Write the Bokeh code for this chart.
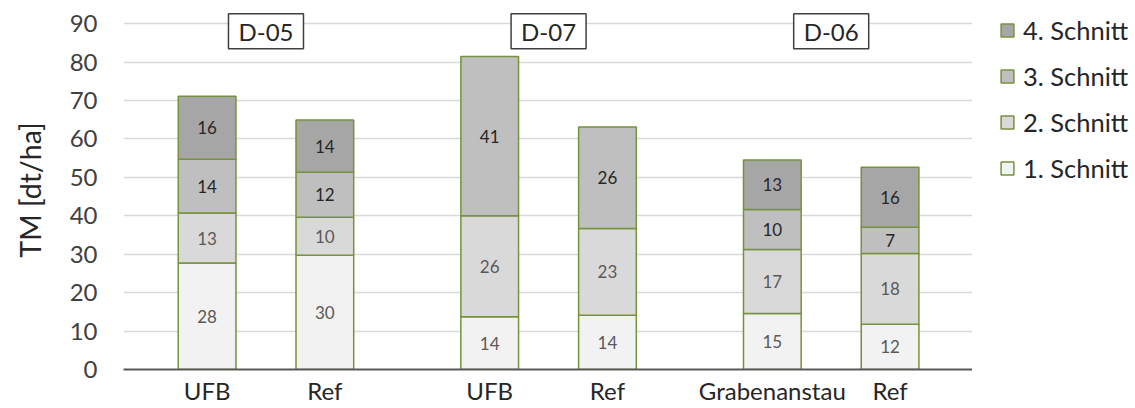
from bokeh.plotting import figure
from bokeh.layouts import row
from bokeh.models import ColumnDataSource, Range1d, FixedTicker, Label, Legend, LegendItem
from bokeh.core.properties import value
from bokeh.embed import file_html
from bokeh.resources import INLINE

# ---------------- data ----------------
sites = ["D-05", "D-05", "D-07", "D-07", "D-06", "D-06"]
categories = ["UFB", "Ref", "UFB", "Ref", "Grabenanstau", "Ref"]
series_names = ["1. Schnitt", "2. Schnitt", "3. Schnitt", "4. Schnitt"]
schnitt1 = [27.7, 29.7, 13.7, 14.1, 14.6, 11.8]
schnitt2 = [13.0, 9.9, 26.3, 22.6, 16.6, 18.4]
schnitt3 = [14.0, 11.7, 41.4, 26.4, 10.4, 6.8]
schnitt4 = [16.4, 13.6, 0.0, 0.0, 12.9, 15.6]
y_ticks = [0, 10, 20, 30, 40, 50, 60, 70, 80, 90]

# ---------------- styles ----------------
FONT = "Lato"
fills = ["#f2f2f2", "#d9d9d9", "#bfbfbf", "#a6a6a6"]
label_colors = ["#595959", "#595959", "#262626", "#262626"]
OUTLINE = "#76923c"
GROUP_GAP = 0.4
BAR_W = 0.49

site_order = []
for s in sites:
    if s not in site_order:
        site_order.append(s)
xpos = [i + GROUP_GAP * site_order.index(s) for i, s in enumerate(sites)]

# frame top extends a little above 90 so the site boxes are not clipped
p = figure(width=972, height=407,
           x_range=Range1d(-0.71, 6.5), y_range=Range1d(0, 93.4),
           output_backend="svg", toolbar_location=None,
           min_border_left=123, min_border_right=0,
           min_border_top=10, min_border_bottom=0)
p.outline_line_color = None

series = [schnitt1, schnitt2, schnitt3, schnitt4]
bottoms = [0.0] * len(sites)
renderers = []
for k, vals in enumerate(series):
    xs, bs, ts, mids, labs = [], [], [], [], []
    for i, v in enumerate(vals):
        if v > 0:
            xs.append(xpos[i]); bs.append(bottoms[i]); ts.append(bottoms[i] + v)
            mids.append(bottoms[i] + v / 2); labs.append(str(int(round(v))))
        bottoms[i] += v
    src = ColumnDataSource(dict(x=xs, bottom=bs, top=ts, mid=mids, lab=labs))
    r = p.vbar(x="x", bottom="bottom", top="top", width=BAR_W, source=src,
               fill_color=fills[k], line_color=OUTLINE, line_width=1.5)
    renderers.append(r)
    p.text(x="x", y="mid", text="lab", source=src, text_align="center",
           text_baseline="middle", text_font=value(FONT), text_font_size="17px",
           text_color=label_colors[k])

for s in site_order:
    xs = [xpos[i] for i in range(len(sites)) if sites[i] == s]
    lab = Label(x=sum(xs) / len(xs), y=88.0, text=s, text_align="center",
                text_baseline="middle", text_font=FONT, text_font_size="24px",
                text_color="#262626", border_line_color="#404040", border_line_width=1.5,
                background_fill_color="white",
                padding=dict(left=10, right=10, top=3, bottom=3))
    p.add_layout(lab)

p.xgrid.visible = False
p.ygrid.ticker = FixedTicker(ticks=y_ticks)
p.ygrid.grid_line_color = "#d9d9d9"
p.ygrid.grid_line_width = 1.3

p.yaxis.ticker = FixedTicker(ticks=y_ticks)
p.yaxis.axis_line_color = None
p.yaxis.major_tick_line_color = None
p.yaxis.minor_tick_line_color = None
p.yaxis.major_label_standoff = 20
p.yaxis.major_label_text_font = FONT
p.yaxis.major_label_text_font_size = "24px"
p.yaxis.major_label_text_color = "#404040"
p.yaxis.axis_label = "TM [dt/ha]"
p.yaxis.axis_label_text_font = FONT
p.yaxis.axis_label_text_font_size = "28.5px"
p.yaxis.axis_label_text_font_style = "normal"
p.yaxis.axis_label_text_color = "#262626"
p.yaxis.axis_label_standoff = 20

p.xaxis.ticker = FixedTicker(ticks=xpos)
p.xaxis.major_label_overrides = {x: c for x, c in zip(xpos, categories)}
p.xaxis.axis_line_color = "#595959"
p.xaxis.axis_line_width = 2
p.xaxis.major_tick_line_color = None
p.xaxis.minor_tick_line_color = None
p.xaxis.major_label_standoff = 0
p.xaxis.major_label_text_font = FONT
p.xaxis.major_label_text_font_size = "24px"
p.xaxis.major_label_text_color = "#262626"

# legend in its own narrow panel (dummy glyphs carry no drawable data)
nan = float("nan")
lf = figure(width=163, height=407, output_backend="svg", toolbar_location=None,
            x_range=Range1d(0, 1), y_range=Range1d(0, 1),
            x_axis_type=None, y_axis_type=None,
            min_border_left=22, min_border_right=0, min_border_top=10, min_border_bottom=0)
lf.outline_line_color = None
lf.xgrid.visible = False
lf.ygrid.visible = False
dummies = []
for k in range(4):
    dummies.append(lf.vbar(x=[nan], bottom=[nan], top=[nan], width=BAR_W,
                           fill_color=fills[k], line_color=OUTLINE, line_width=1.5))
legend = Legend(items=[LegendItem(label=series_names[k], renderers=[dummies[k]])
                       for k in reversed(range(4))],
                location="top_left", orientation="vertical",
                label_text_font=FONT, label_text_font_size="25.5px",
                label_text_color="#262626",
                glyph_width=16, glyph_height=16, spacing=16,
                margin=5, padding=0, label_standoff=8,
                border_line_color=None, background_fill_alpha=0)
lf.add_layout(legend)

open("out.html", "w").write(file_html(row(p, lf), INLINE))
